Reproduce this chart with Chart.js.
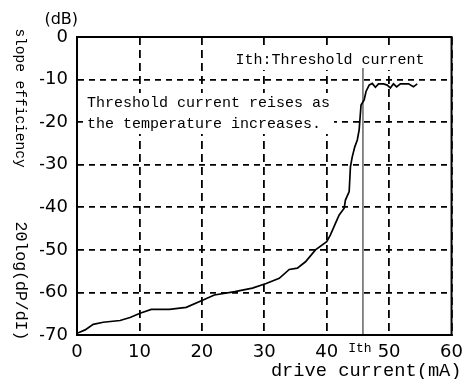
<!DOCTYPE html>
<html>
<head>
<meta charset="utf-8">
<script src="https://cdn.jsdelivr.net/npm/chart.js@4.4.1/dist/chart.umd.min.js"></script>
<style>
  html, body { margin: 0; padding: 0; background: #fff; }
  #wrap { width: 470px; height: 379px; }
</style>
</head>
<body>
<div id="wrap"><canvas id="chart" width="470" height="379"></canvas></div>
<script>
// drive current (mA) vs slope efficiency (dB)
const currentMA = [0, 1.3, 2.6, 4.2, 6.9, 8.5, 10.1, 11.9, 14.8, 17.5, 20.2, 22.0, 25.3, 28.1, 30.3,
    32.4, 34.0, 35.3, 36.6, 38.2, 40.0, 40.6, 41.4, 42.0, 42.8, 43.0, 43.6, 43.8, 44.1, 44.5,
    44.9, 45.2, 45.4, 45.5, 46.0, 46.3, 46.8, 47.3, 47.8, 48.3, 49.1, 49.7, 50.2, 50.7, 51.2,
    51.8, 53.1, 53.9, 54.5];
const slopeDB = [-69.6, -68.8, -67.5, -67.0, -66.6, -65.9, -64.9, -64.0, -64.0, -63.5, -61.8, -60.6, -59.8, -59.0, -57.9,
    -56.7, -54.6, -54.3, -52.8, -50.0, -48.1, -46.5, -43.8, -41.8, -40.2, -38.3, -36.3, -30.5, -28.1, -25.8,
    -24.2, -21.8, -17.9, -16.0, -14.8, -12.8, -11.3, -10.9, -11.8, -11.0, -11.0, -11.3, -12.0, -11.0, -11.7,
    -11.0, -11.0, -11.7, -11.0];

// threshold current marker
const ithCurrent = 45.8;
const ithSpan = [-7.3, -70];

const xTickValues = [0, 10, 20, 30, 40, 50, 60];
const yTickValues = [0, -10, -20, -30, -40, -50, -60, -70];

const yUnit = "(dB)";
const yTitleParts = ["slope efficiency", "20log(dP/dI)"];
const xTitle = "drive current(mA)";
const ithLabel = "Ith";
const ithNote = "Ith:Threshold current";
const noteLines = ["Threshold current reises as", "the temperature increases."];

const mono = "'Liberation Mono', 'DejaVu Sans Mono', monospace";

const textPlugin = {
    id: "chartTexts",
    beforeDatasetsDraw(chart) {
        const { ctx, scales: { x, y } } = chart;
        ctx.save();
        ctx.textBaseline = "middle";

        // note boxes hide the grid behind the text
        ctx.font = "15px " + mono;
        const nx = x.getPixelForValue(1.6);
        const ny = y.getPixelForValue(-15.5);
        const w = Math.max(...noteLines.map((t) => ctx.measureText(t).width));
        ctx.fillStyle = "#fff";
        ctx.fillRect(nx - 4, ny - 10, w + 8, 41);
        const ix = x.getPixelForValue(25.4);
        const iy = y.getPixelForValue(-5.4);
        const iw = ctx.measureText(ithNote).width;
        ctx.fillRect(ix - 3, iy - 10, iw + 6, 20);

        ctx.fillStyle = "#000";
        noteLines.forEach((t, i) => ctx.fillText(t, nx, ny + i * 21));
        ctx.fillText(ithNote, ix, iy);
        ctx.restore();
    },
    afterDraw(chart) {
        const { ctx, chartArea: a, scales: { x } } = chart;
        ctx.save();
        ctx.strokeStyle = "#000";
        ctx.lineWidth = 2;
        ctx.strokeRect(a.left, a.top, a.right - a.left, a.bottom - a.top);

        ctx.fillStyle = "#000";
        ctx.textBaseline = "middle";

        ctx.font = "16px 'DejaVu Sans'";
        ctx.textAlign = "right";
        ctx.fillText(yUnit, a.left + 1, a.top - 17);

        ctx.font = "18.7px " + mono;
        ctx.fillText(xTitle, a.right + 10, a.bottom + 36);

        ctx.font = "13px " + mono;
        ctx.textAlign = "center";
        ctx.fillText(ithLabel, x.getPixelForValue(ithCurrent) - 3, a.bottom + 14);

        // y title reads top to bottom
        const drawDown = (t, cy, size) => {
            ctx.save();
            ctx.translate(20, cy);
            ctx.rotate(Math.PI / 2);
            ctx.font = size + "px " + mono;
            ctx.textAlign = "center";
            ctx.fillText(t, 0, 0);
            ctx.restore();
        };
        drawDown(yTitleParts[0], 98, 14.5);
        drawDown(yTitleParts[1], 281, 16.5);
        ctx.restore();
    }
};

const tickFont = { family: "'DejaVu Sans'", size: 18 };

new Chart(document.getElementById("chart"), {
    type: "scatter",
    data: {
        datasets: [
            {
                data: currentMA.map((v, i) => ({ x: v, y: slopeDB[i] })),
                showLine: true,
                borderColor: "#000",
                borderWidth: 1.7,
                pointRadius: 0,
                tension: 0,
            },
            {
                data: ithSpan.map((v) => ({ x: ithCurrent, y: v })),
                showLine: true,
                borderColor: "#777",
                borderWidth: 1,
                pointRadius: 0,
            },
        ],
    },
    options: {
        responsive: false,
        animation: false,
        devicePixelRatio: 1,
        layout: { padding: { left: 40, top: 37, right: 17, bottom: 0 } },
        plugins: { legend: { display: false }, tooltip: { enabled: false } },
        scales: {
            x: {
                type: "linear",
                min: 0,
                max: 60,
                afterBuildTicks: (s) => { s.ticks = xTickValues.map((v) => ({ value: v })); },
                afterFit: (s) => { s.height = 44; },
                grid: { color: "#000", lineWidth: 1.8, drawTicks: false },
                border: { display: true, color: "#000", width: 2, dash: [8, 5] },
                ticks: { color: "#000", font: tickFont, padding: 7, maxRotation: 0, autoSkip: false },
            },
            y: {
                type: "linear",
                min: -70,
                max: 0,
                afterBuildTicks: (s) => { s.ticks = yTickValues.map((v) => ({ value: v })); },
                afterFit: (s) => { s.width = 37; },
                grid: { color: "#000", lineWidth: 1.8, drawTicks: false },
                border: { display: true, color: "#000", width: 2, dash: [6, 5] },
                ticks: { color: "#000", font: tickFont, padding: 9, autoSkip: false },
            },
        },
    },
    plugins: [textPlugin],
});
</script>
</body>
</html>
